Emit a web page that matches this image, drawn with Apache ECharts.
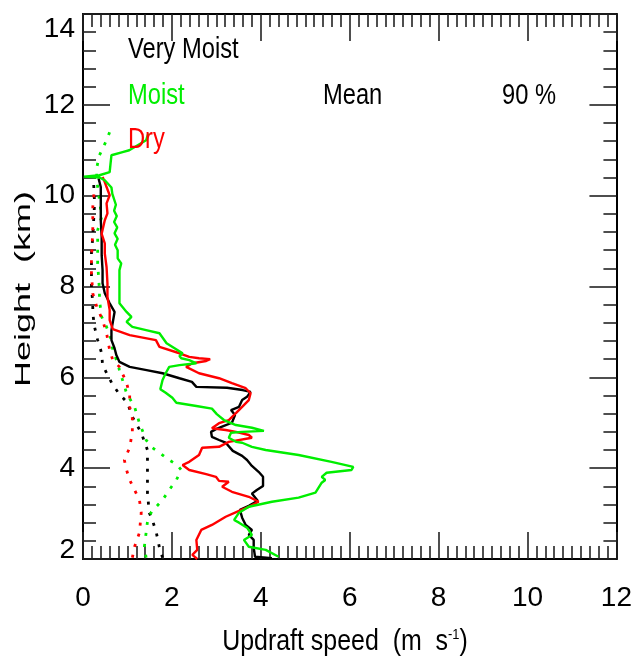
<!DOCTYPE html>
<html>
<head>
<meta charset="utf-8">
<script src="https://cdn.jsdelivr.net/npm/echarts@6/dist/echarts.min.js"></script>
<style>
  html, body { margin: 0; padding: 0; background: #fff; }
  #chart { width: 635px; height: 659px; }
</style>
</head>
<body>
<div id="chart"></div>
<script>
// Updraft speed profiles: x = updraft speed (m/s), y = height (km)

// Very Moist, 90th percentile (solid black)
const veryMoist90Speed  = [4.25,3.87,3.84,3.84,3.73,3.80,3.66,3.58,3.53,3.73,3.93,3.80,3.91,4.05,4.05,3.95,3.80,3.69,3.58,3.37,3.21,3.06,2.90,2.88,2.99,3.17,3.35,3.42,3.33,3.51,3.58,3.69,3.77,3.59,3.24,2.55,2.45,2.17,1.79,1.43,1.05,0.82,0.75,0.71,0.64,0.64,0.71,0.60,0.49,0.44,0.44,0.42,0.42,0.40,0.40,0.40,0.35];
const veryMoist90Height = [2.02,2.05,2.25,2.42,2.53,2.64,2.75,2.91,3.08,3.17,3.28,3.44,3.52,3.61,3.81,3.92,4.05,4.18,4.27,4.38,4.56,4.62,4.69,4.80,4.86,4.93,5.00,5.17,5.28,5.35,5.50,5.57,5.68,5.72,5.77,5.79,5.90,5.98,6.09,6.16,6.23,6.34,6.49,6.64,6.82,7.04,7.44,7.63,7.85,8.07,8.36,8.69,9.09,9.46,9.83,10.19,10.38];

// Dry, 90th percentile (solid red)
const dry90Speed  = [2.57,2.46,2.57,2.55,2.66,2.90,3.21,3.51,3.73,3.95,3.73,3.35,3.13,3.28,3.06,2.99,2.77,2.39,2.24,2.39,2.61,2.68,3.06,3.28,3.80,3.73,3.44,3.21,2.90,3.06,3.28,3.44,3.58,3.73,3.77,3.66,3.35,3.06,2.61,2.32,2.46,2.77,2.86,2.61,2.39,2.17,1.72,1.64,1.05,0.67,0.60,0.60,0.55,0.55,0.53,0.49,0.49,0.42,0.49,0.55,0.53,0.60,0.53,0.49,0.44];
const dry90Height = [2.00,2.09,2.20,2.42,2.64,2.75,2.93,3.06,3.15,3.26,3.37,3.48,3.59,3.70,3.72,3.81,3.87,3.96,4.07,4.14,4.29,4.45,4.47,4.58,4.67,4.73,4.80,4.84,4.88,4.99,5.06,5.21,5.35,5.50,5.65,5.76,5.87,5.98,6.09,6.23,6.31,6.36,6.40,6.42,6.45,6.53,6.67,6.82,6.93,7.06,7.26,7.48,7.77,8.07,8.43,8.73,8.95,9.16,9.46,9.61,9.83,10.01,10.19,10.30,10.41];

// Moist, 90th percentile (solid green)
const moist90Speed  = [4.40,4.11,3.73,3.62,3.80,3.69,3.51,3.40,3.51,3.73,4.25,4.85,5.23,5.37,5.45,5.37,5.48,6.04,6.08,5.59,4.85,4.11,3.80,3.58,3.44,3.28,3.33,3.58,4.07,3.80,3.44,3.17,3.01,2.90,2.55,2.10,2.01,1.86,1.74,1.79,1.86,1.94,2.17,2.55,2.39,2.21,2.17,2.24,1.88,1.72,1.42,1.11,0.98,1.09,0.98,0.82,0.82,0.82,0.86,0.78,0.78,0.72,0.78,0.71,0.77,0.70,0.76,0.70,0.74,0.66,0.64,0.49,0.37,0.02,0.37,0.60,0.62,0.64,0.89,1.04,1.42,1.47];
const moist90Height = [2.05,2.20,2.27,2.42,2.53,2.69,2.80,2.86,3.02,3.15,3.26,3.35,3.46,3.68,3.74,3.81,3.90,3.96,4.03,4.14,4.29,4.40,4.47,4.56,4.58,4.67,4.78,4.80,4.82,4.89,4.95,5.06,5.19,5.31,5.37,5.44,5.55,5.66,5.74,5.94,6.09,6.23,6.27,6.31,6.38,6.42,6.47,6.53,6.75,6.97,7.04,7.11,7.22,7.33,7.44,7.63,7.99,8.36,8.51,8.62,8.80,8.92,9.05,9.17,9.30,9.42,9.55,9.67,9.80,10.04,10.18,10.34,10.40,10.42,10.45,10.52,10.71,10.89,10.96,11.00,11.22,11.37];

// Very Moist, mean (dotted black)
const veryMoistMeanSpeed  = [1.79,1.72,1.65,1.56,1.49,1.45,1.45,1.45,1.31,1.11,1.00,0.82,0.67,0.44,0.42,0.33,0.26,0.22,0.22,0.19,0.19,0.19,0.22,0.26,0.24];
const veryMoistMeanHeight = [2.03,2.25,2.58,2.86,3.02,3.46,3.96,4.40,4.78,5.13,5.44,5.63,5.83,6.27,6.53,6.82,7.11,7.41,7.63,7.99,8.36,8.73,9.09,9.83,10.27];

// Dry, mean (dotted red)
const dryMeanSpeed  = [1.11,1.16,1.27,1.31,1.27,1.16,1.05,0.98,0.93,1.00,1.05,1.11,1.11,1.05,1.05,0.98,0.82,0.67,0.60,0.53,0.44,0.31,0.22,0.19,0.19,0.22,0.22,0.26];
const dryMeanHeight = [2.03,2.27,2.58,3.02,3.30,3.52,3.74,3.96,4.18,4.34,4.45,4.80,5.10,5.35,5.61,5.88,6.23,6.38,6.60,6.97,7.26,7.55,7.85,8.29,8.58,9.24,9.75,10.19];

// Moist, mean (dotted green)
const moistMeanSpeed  = [1.42,1.38,1.42,1.45,1.54,1.79,1.94,2.10,2.21,2.12,1.94,1.72,1.56,1.42,1.27,1.16,0.98,0.89,0.82,0.78,0.67,0.64,0.53,0.42,0.37,0.37,0.33,0.33,0.42,0.37,0.31,0.31,0.37,0.53,0.60,0.75];
const moistMeanHeight = [2.03,2.27,2.58,2.82,3.04,3.30,3.52,3.74,3.96,4.07,4.18,4.34,4.45,4.62,4.99,5.35,5.65,5.94,6.16,6.31,6.60,6.82,7.11,7.33,7.70,7.92,8.51,9.24,9.53,9.90,10.34,10.62,10.89,11.22,11.40,11.33];

// Axis ticks
const speedTicks  = [0, 2, 4, 6, 8, 10, 12];
const heightTicks = [2, 4, 6, 8, 10, 12, 14];

// Text labels
const groupLabels = ['Very Moist', 'Moist', 'Dry'];
const statLabels  = ['Mean', '90 %'];
const speedTitle  = 'Updraft speed  (m  s{sup|-1})';
const heightTitle = 'Height  (km)';

const BLACK = '#000000', GREEN = '#00ee00', RED = '#ff0000';
const FONT = "'Liberation Sans', Arial, sans-serif";
const SQUEEZE = 0.79;   // narrow lettering for the annotations

function pairs(xs, ys) { return xs.map((x, i) => [x, ys[i]]); }

function profile(name, xs, ys, color, dotted) {
  return {
    name: name,
    type: 'line',
    data: pairs(xs, ys),
    showSymbol: false,
    symbol: 'none',
    smooth: false,
    animation: false,
    lineStyle: dotted
      ? { color: color, width: 2.8, type: [3, 8] }
      : { color: color, width: 2.4 },
    z: dotted ? 2 : 3
  };
}

const tickStyle = { color: '#222', width: 1.6 };

function speedAxis(pos, showLabels) {
  return {
    type: 'value', position: pos,
    min: speedTicks[0], max: speedTicks[speedTicks.length - 1], interval: 2,
    axisLine: { show: true, onZero: false, lineStyle: { color: '#000', width: 2 } },
    axisTick: { show: true, inside: true, length: 27, lineStyle: tickStyle },
    minorTick: { show: true, splitNumber: 10, length: 13, lineStyle: tickStyle },
    splitLine: { show: false }, minorSplitLine: { show: false },
    axisLabel: {
      show: showLabels, color: '#000', fontFamily: FONT, fontSize: 28, margin: 25,
      showMinLabel: true, showMaxLabel: true
    }
  };
}

function heightAxis(pos, showLabels) {
  return {
    type: 'value', position: pos,
    min: heightTicks[0], max: heightTicks[heightTicks.length - 1], interval: 2,
    axisLine: { show: true, onZero: false, lineStyle: { color: '#000', width: 2 } },
    axisTick: { show: true, inside: true, length: 27, lineStyle: tickStyle },
    minorTick: { show: true, splitNumber: 5, length: 13, lineStyle: tickStyle },
    splitLine: { show: false }, minorSplitLine: { show: false },
    axisLabel: {
      show: showLabels, color: '#000', fontFamily: FONT, fontSize: 28, margin: 8,
      showMinLabel: true, showMaxLabel: true,
      formatter: function (v) {
        if (v === heightTicks[heightTicks.length - 1]) return '{hi|' + v + '}';
        if (v === heightTicks[0]) return '{lo|' + v + '}';
        return String(v);
      },
      rich: {
        hi: { fontFamily: FONT, fontSize: 28, color: '#000', padding: [30, 0, 0, 0] },
        lo: { fontFamily: FONT, fontSize: 28, color: '#000', padding: [0, 0, 18, 0] }
      }
    }
  };
}

function label(text, x, y, color) {
  return {
    type: 'text', x: x, y: y, scaleX: SQUEEZE, z: 10,
    style: {
      text: text, fill: color, font: '30px ' + FONT,
      align: 'left', verticalAlign: 'middle',
      textAlign: 'left', textVerticalAlign: 'middle'
    }
  };
}

const chart = echarts.init(document.getElementById('chart'), null, { renderer: 'canvas' });

chart.setOption({
  backgroundColor: '#ffffff',
  animation: false,
  grid: { left: 83, right: 16, top: 14, bottom: 100, containLabel: false },
  xAxis: [speedAxis('bottom', true), speedAxis('top', false)],
  yAxis: [heightAxis('left', true), heightAxis('right', false)],
  graphic: [
    label(groupLabels[0], 128, 50, BLACK),
    label(groupLabels[1], 128, 96, GREEN),
    label(groupLabels[2], 128, 140, RED),
    label(statLabels[0], 323, 96, BLACK),
    label(statLabels[1], 502, 96, BLACK),
    {
      // x-axis title with superscript unit
      type: 'text', x: 345, y: 642, scaleX: 0.86, z: 10,
      style: {
        text: speedTitle, fill: '#000', font: '29px ' + FONT,
        align: 'center', verticalAlign: 'middle',
        textAlign: 'center', textVerticalAlign: 'middle',
        rich: { sup: { fontFamily: FONT, fontSize: 15, fill: '#000', color: '#000', verticalAlign: 'top' } }
      }
    },
    {
      // y-axis title, reading upward
      type: 'text', x: 24, y: 289, rotation: Math.PI / 2, scaleY: 0.6, z: 10,
      style: {
        text: heightTitle, fill: '#000', font: '36px ' + FONT,
        align: 'center', verticalAlign: 'middle',
        textAlign: 'center', textVerticalAlign: 'middle'
      }
    }
  ],
  series: [
    profile('Very Moist mean', veryMoistMeanSpeed, veryMoistMeanHeight, BLACK, true),
    profile('Moist mean', moistMeanSpeed, moistMeanHeight, GREEN, true),
    profile('Dry mean', dryMeanSpeed, dryMeanHeight, RED, true),
    profile('Very Moist 90 %', veryMoist90Speed, veryMoist90Height, BLACK, false),
    profile('Dry 90 %', dry90Speed, dry90Height, RED, false),
    profile('Moist 90 %', moist90Speed, moist90Height, GREEN, false)
  ]
});
</script>
</body>
</html>
